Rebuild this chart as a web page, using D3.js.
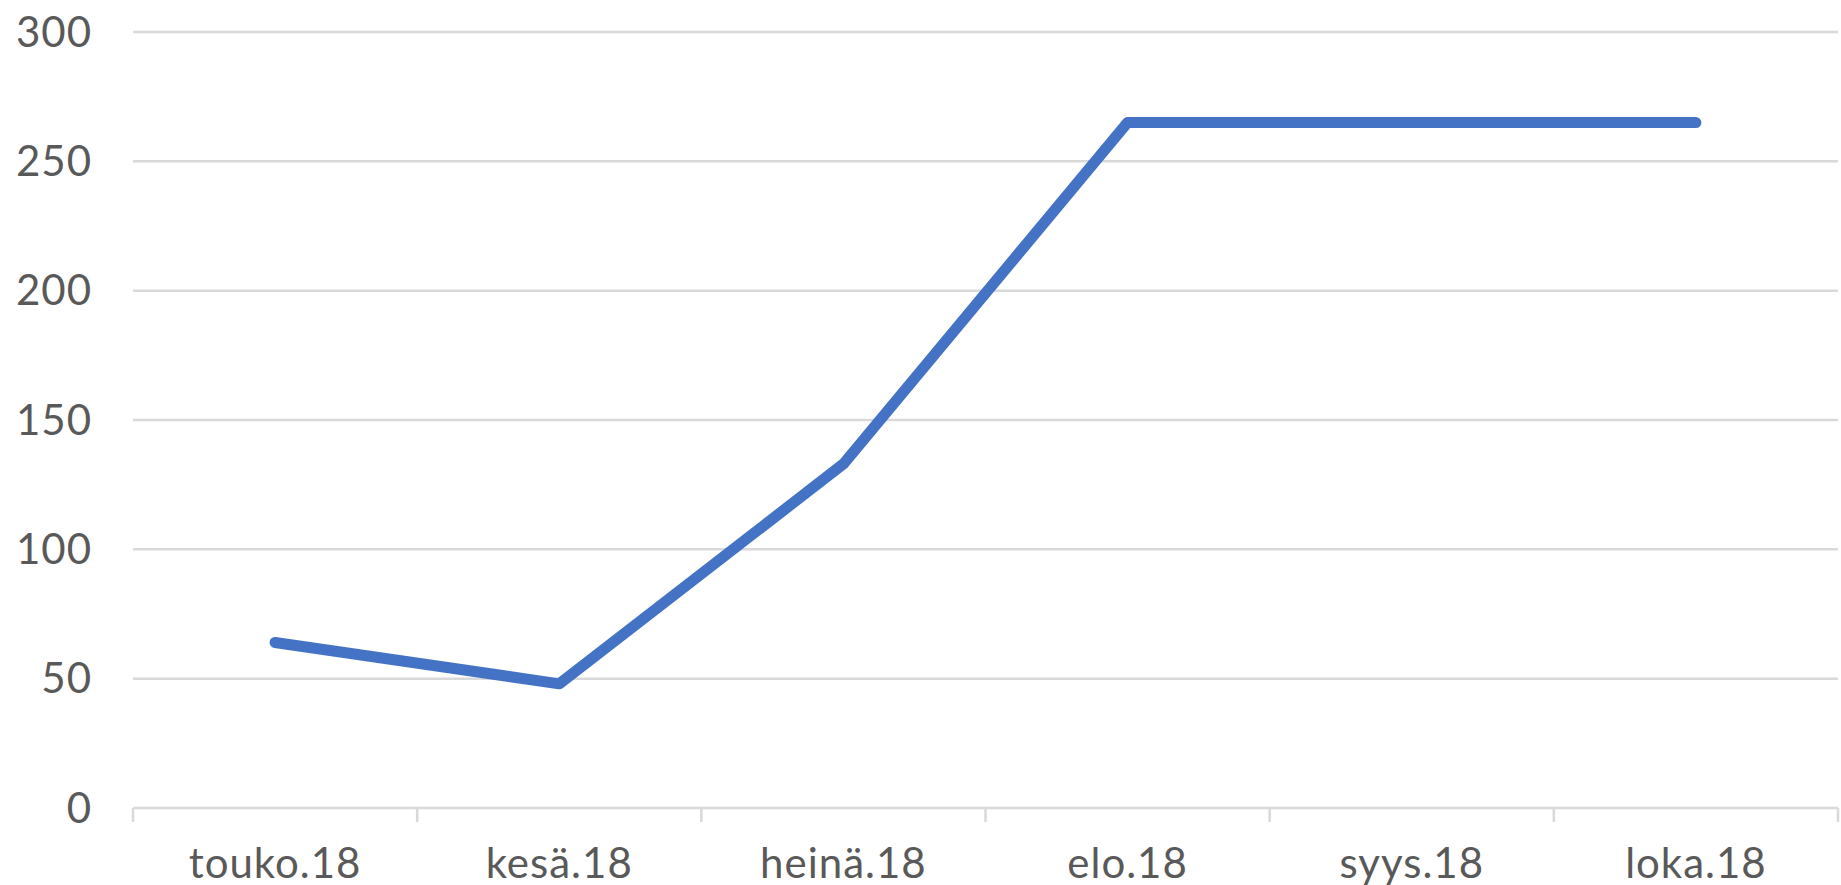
<!DOCTYPE html>
<html>
<head>
<meta charset="utf-8">
<script src="https://cdn.jsdelivr.net/npm/d3@7"></script>
<style>
	body { margin: 0; background: #fff; }
	svg text { font-family: Lato, "Open Sans", sans-serif; fill: #595959; letter-spacing: 1px; }
</style>
</head>
<body>
<svg id="chart" width="1841" height="885"></svg>
<script>
// chart data
const months = ['touko.18', 'kesä.18', 'heinä.18', 'elo.18', 'syys.18', 'loka.18'];
const values = [64, 48, 133, 265, 265, 265];
const yTicks = [0, 50, 100, 150, 200, 250, 300];

const svg = d3.select('svg#chart'),
	plotLeft = 133,
	plotRight = 1838,
	plotTop = 32,
	plotBottom = 808,
	fontSize = 42;

const x = d3.scaleBand().domain(months).range([plotLeft, plotRight]).padding(0);
const y = d3.scaleLinear().domain([0, 300]).range([plotBottom, plotTop]);

// horizontal gridlines
svg.append('g')
	.selectAll('line')
	.data(yTicks)
	.join('line')
	.attr('x1', plotLeft)
	.attr('x2', plotRight)
	.attr('y1', d => y(d))
	.attr('y2', d => y(d))
	.attr('stroke', '#d9d9d9')
	.attr('stroke-width', 2.5);

// y labels
svg.append('g')
	.selectAll('text')
	.data(yTicks)
	.join('text')
	.attr('x', 92)
	.attr('y', d => y(d))
	.attr('dy', '0.35em')
	.attr('text-anchor', 'end')
	.style('font-size', fontSize + 'px')
	.text(d => d);

// category boundary ticks below the baseline
const edges = months.map(m => x(m)).concat([x.range()[1]]);
svg.append('g')
	.selectAll('line')
	.data(edges)
	.join('line')
	.attr('x1', d => d)
	.attr('x2', d => d)
	.attr('y1', plotBottom)
	.attr('y2', plotBottom + 14)
	.attr('stroke', '#d9d9d9')
	.attr('stroke-width', 2.5);

// x labels
svg.append('g')
	.selectAll('text')
	.data(months)
	.join('text')
	.attr('x', d => x(d) + x.bandwidth() / 2)
	.attr('y', 878)
	.attr('text-anchor', 'middle')
	.style('font-size', fontSize + 'px')
	.text(d => d);

// the series line
const line = d3.line()
	.x((d, i) => x(months[i]) + x.bandwidth() / 2)
	.y(d => y(d));

svg.append('path')
	.datum(values)
	.attr('d', line)
	.attr('fill', 'none')
	.attr('stroke', '#4472c4')
	.attr('stroke-width', 11)
	.attr('stroke-linecap', 'round')
	.attr('stroke-linejoin', 'round');
</script>
</body>
</html>
